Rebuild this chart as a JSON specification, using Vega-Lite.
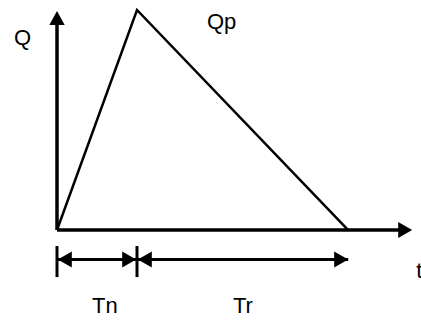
{
  "$schema": "https://vega.github.io/schema/vega-lite/v6.json",
  "width": 421,
  "height": 320,
  "autosize": {"type": "none"},
  "padding": 0,
  "background": "white",
  "view": {"stroke": null},
  "config": {"font": "Liberation Sans"},
  "datasets": {
    "segments": [
      {"kind": "axis", "t": 0, "q": 0, "t2": 0, "q2": 0.95},
      {"kind": "axis", "t": 0, "q": 0, "t2": 4.3, "q2": 0},
      {"kind": "dim", "t": 0, "q": -0.134, "t2": 3.64, "q2": -0.134},
      {"kind": "dim", "t": 0, "q": -0.073, "t2": 0, "q2": -0.214},
      {"kind": "dim", "t": 1, "q": -0.073, "t2": 1, "q2": -0.214}
    ],
    "hydrograph": [
      {"t": 0, "q": 0, "order": 1},
      {"t": 1, "q": 1, "order": 2},
      {"t": 3.64, "q": 0, "order": 3}
    ],
    "arrows": [
      {"kind": "axis", "dir": "up", "t": 0, "q": 0.995},
      {"kind": "axis", "dir": "right", "t": 4.44, "q": 0},
      {"kind": "dim", "dir": "left", "t": 0.01, "q": -0.134},
      {"kind": "dim", "dir": "right", "t": 0.99, "q": -0.134},
      {"kind": "dim", "dir": "left", "t": 1.01, "q": -0.134},
      {"kind": "dim", "dir": "right", "t": 3.64, "q": -0.134}
    ],
    "labels": [
      {"label": "Q", "t": -0.5375, "q": 0.841},
      {"label": "Qp", "t": 1.875, "q": 0.9136},
      {"label": "Tn", "t": 0.4375, "q": -0.377},
      {"label": "Tr", "t": 2.2, "q": -0.377},
      {"label": "t", "t": 4.49, "q": -0.218}
    ]
  },
  "encoding": {
    "x": {"field": "t", "type": "quantitative", "axis": null,
          "scale": {"domain": [-0.7125, 4.55], "nice": false, "zero": false}},
    "y": {"field": "q", "type": "quantitative", "axis": null,
          "scale": {"domain": [-0.409, 1.04545], "nice": false, "zero": false}}
  },
  "layer": [
    {
      "data": {"name": "segments"},
      "transform": [{"filter": "datum.kind === 'axis'"}],
      "mark": {"type": "rule", "color": "black", "strokeWidth": 3.5, "strokeCap": "butt"},
      "encoding": {"x2": {"field": "t2"}, "y2": {"field": "q2"}}
    },
    {
      "data": {"name": "segments"},
      "transform": [{"filter": "datum.kind === 'dim'"}],
      "mark": {"type": "rule", "color": "black", "strokeWidth": 3, "strokeCap": "butt"},
      "encoding": {"x2": {"field": "t2"}, "y2": {"field": "q2"}}
    },
    {
      "data": {"name": "hydrograph"},
      "mark": {"type": "line", "color": "black", "strokeWidth": 2.5, "strokeJoin": "miter"},
      "encoding": {"order": {"field": "order", "type": "quantitative"}}
    },
    {
      "data": {"name": "arrows"},
      "transform": [{"filter": "datum.kind === 'axis'"}],
      "mark": {"type": "point", "filled": true, "color": "black", "opacity": 1, "size": 196, "strokeWidth": 0},
      "encoding": {
        "shape": {"field": "dir", "type": "nominal", "legend": null,
                  "scale": {"domain": ["up", "right", "left"],
                            "range": ["M -1.1 2 L 0 0 L 1.1 2 Z", "M -2 -1.15 L 0 0 L -2 1.15 Z", "M 2 -1.15 L 0 0 L 2 1.15 Z"]}}
      }
    },
    {
      "data": {"name": "arrows"},
      "transform": [{"filter": "datum.kind === 'dim'"}],
      "mark": {"type": "point", "filled": true, "color": "black", "opacity": 1, "size": 196, "strokeWidth": 0},
      "encoding": {
        "shape": {"field": "dir", "type": "nominal", "legend": null,
                  "scale": {"domain": ["up", "right", "left"],
                            "range": ["M -0.8 2 L 0 0 L 0.8 2 Z", "M -2 -0.8 L 0 0 L -2 0.8 Z", "M 2 -0.8 L 0 0 L 2 0.8 Z"]}}
      }
    },
    {
      "data": {"name": "labels"},
      "mark": {"type": "text", "align": "left", "baseline": "alphabetic", "fontSize": 22, "color": "black"},
      "encoding": {"text": {"field": "label", "type": "nominal"}}
    }
  ]
}
